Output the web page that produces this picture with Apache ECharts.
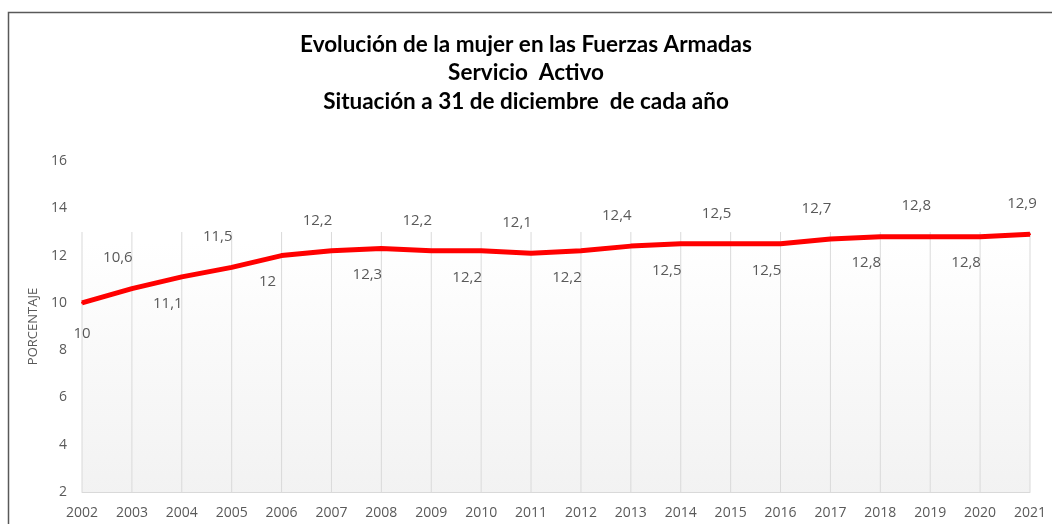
<!DOCTYPE html>
<html>
<head>
<meta charset="utf-8">
<script src="https://cdn.jsdelivr.net/npm/echarts@6/dist/echarts.min.js"></script>
<style>
  html, body { margin: 0; padding: 0; background: #fff; }
  #chart { width: 1052px; height: 524px; }
</style>
</head>
<body>
<div id="chart"></div>
<script>
const years = ['2002', '2003', '2004', '2005', '2006', '2007', '2008', '2009', '2010', '2011',
  '2012', '2013', '2014', '2015', '2016', '2017', '2018', '2019', '2020', '2021']
const porcentaje = [10, 10.6, 11.1, 11.5, 12, 12.2, 12.3, 12.2, 12.2, 12.1,
  12.2, 12.4, 12.5, 12.5, 12.5, 12.7, 12.8, 12.8, 12.8, 12.9]
// grey backdrop area behind the line
const fondo = [13, 13, 13, 13, 13, 13, 13, 13, 13, 13,
  13, 13, 13, 13, 13, 13, 13, 13, 13, 13]
const yTicks = [2, 4, 6, 8, 10, 12, 14, 16]

const fmt = v => String(v).replace('.', ',')

const chart = echarts.init(document.getElementById('chart'))

const lineData = porcentaje.map((v, i) => ({
  value: v,
  label: i % 2 === 0
    ? { position: 'bottom', distance: 18 }
    : { position: 'top', distance: 22 }
}))

chart.setOption({
  animation: false,
  title: {
    text: 'Evolución de la mujer en las Fuerzas Armadas\nServicio  Activo\nSituación a 31 de diciembre  de cada año',
    left: 'center',
    top: 25,
    textStyle: {
      fontFamily: 'Lato',
      fontWeight: 'bold',
      fontSize: 22.5,
      lineHeight: 28.5,
      color: '#000'
    }
  },
  graphic: [{
    type: 'rect',
    shape: { x: 8.5, y: 12.5, width: 1100, height: 600 },
    style: { fill: 'none', stroke: '#595959', lineWidth: 1.5 },
    silent: true
  }],
  grid: { left: 82, right: 22, top: 161, bottom: 32 },
  xAxis: {
    type: 'category',
    data: years,
    boundaryGap: false,
    axisLine: { lineStyle: { color: '#d9d9d9', width: 1 } },
    axisTick: { show: false },
    axisLabel: {
      color: '#595959',
      fontFamily: 'Open Sans',
      fontSize: 14,
      margin: 14
    }
  },
  yAxis: {
    type: 'value',
    min: yTicks[0],
    max: yTicks[yTicks.length - 1],
    interval: 2,
    name: 'PORCENTAJE',
    nameLocation: 'middle',
    nameGap: 36,
    nameTextStyle: { color: '#595959', fontFamily: 'Open Sans', fontSize: 13 },
    axisLine: { show: false },
    axisTick: { show: false },
    splitLine: { show: false },
    axisLabel: {
      color: '#595959',
      fontFamily: 'Open Sans',
      fontSize: 14,
      margin: 15
    }
  },
  series: [
    {
      type: 'line',
      data: fondo,
      symbol: 'none',
      lineStyle: { width: 0 },
      areaStyle: {
        origin: 'start',
        color: new echarts.graphic.LinearGradient(0, 0, 0, 1, [
          { offset: 0, color: '#ffffff' },
          { offset: 1, color: '#ececec' }
        ])
      },
      silent: true,
      z: 1
    },
    {
      type: 'bar',
      data: fondo,
      barWidth: 1,
      itemStyle: { color: '#dadada' },
      silent: true,
      z: 2
    },
    {
      type: 'line',
      data: lineData,
      symbol: 'circle',
      symbolSize: 2,
      showSymbol: true,
      itemStyle: { color: '#ff0000' },
      lineStyle: { color: '#ff0000', width: 5 },
      label: {
        show: true,
        formatter: p => fmt(p.value),
        color: '#595959',
        fontFamily: 'Open Sans',
        fontSize: 15
      },
      labelLayout: p => ({
        hideOverlap: false,
        dx: p.dataIndex === 0 ? 0 : (p.dataIndex === porcentaje.length - 1 ? -8 : -14),
        dy: p.dataIndex === 0 ? 4 : 0
      }),
      z: 5
    }
  ]
})
</script>
</body>
</html>
